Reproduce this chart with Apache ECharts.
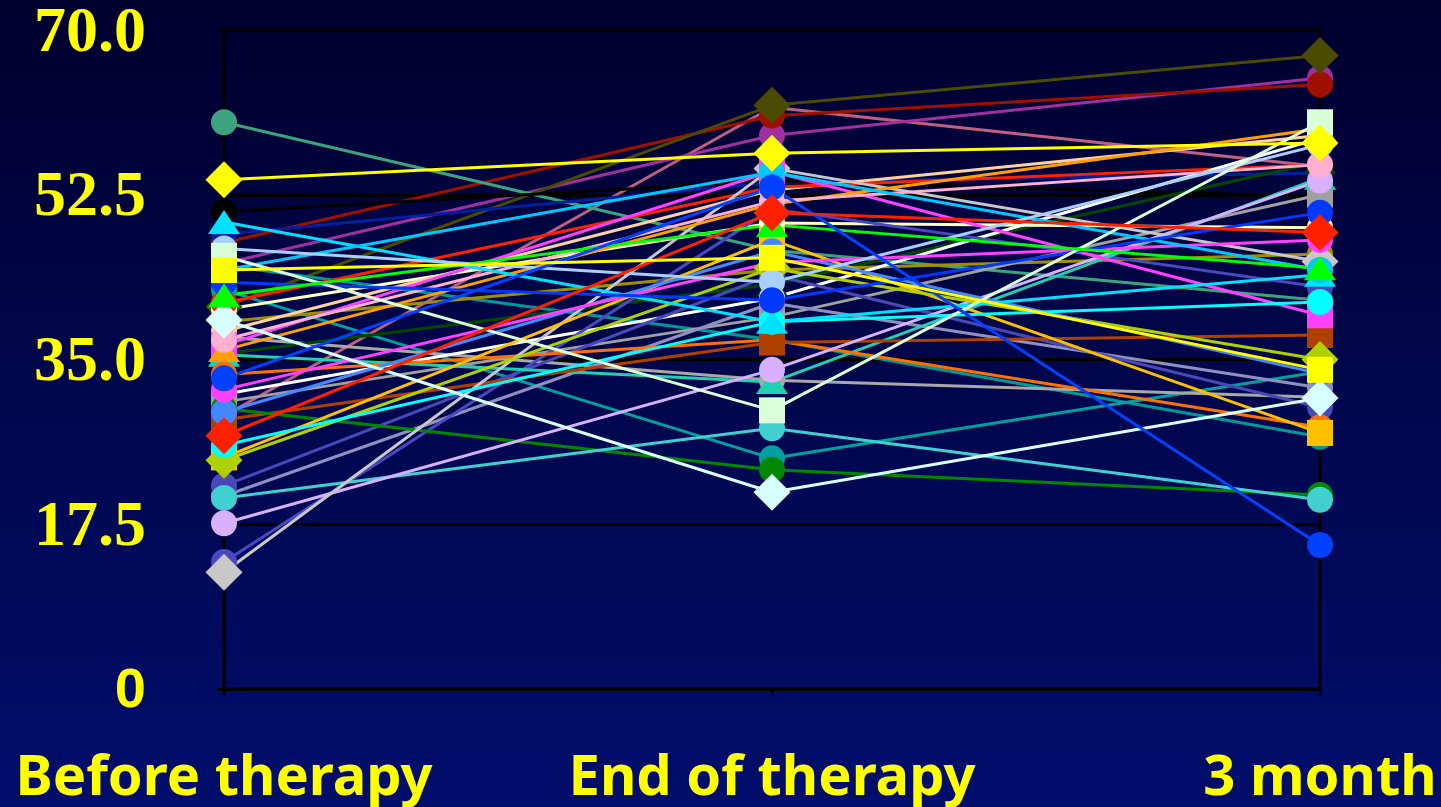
<!DOCTYPE html>
<html>
<head>
<meta charset="utf-8">
<script src="https://cdn.jsdelivr.net/npm/echarts@6/dist/echarts.min.js"></script>
<style>
html,body{margin:0;padding:0;width:1441px;height:807px;overflow:hidden;background:#000033;}
#chart{width:1441px;height:807px;}
</style>
</head>
<body>
<div id="chart"></div>
<script>
// Categories (time points)
const categories = ['Before therapy', 'End of therapy', '3 month'];
// Y-axis tick values
const yTicks = [0, 17.5, 35, 52.5, 70];

// Series values: [Before therapy, End of therapy, 3 month]
const seaGreen      = [60.2, 46.6, 41.3];
const yellowDiamond = [54.1, 56.9, 58.0];
const blackSeries   = [50.7, 54.0, 52.3];
const cyanTriangle  = [49.6, 39.0, 44.0];
const darkRed       = [47.4, 60.9, 64.2];
const navy          = [48.3, 53.8, 54.8];
const lightBlue     = [46.8, 43.2, 57.8];
const lightGreen    = [46.0, 29.6, 60.2];
const purple        = [45.2, 58.8, 64.9];
const yellowSquare  = [44.5, 45.8, 33.9];
const deepSky       = [44.5, 54.9, 44.5];
const tealA         = [45.0, 37.1, 26.8];
const tealB         = [42.4, 24.5, 33.7];
const blueB         = [43.2, 41.3, 50.6];
const green         = [41.8, 49.3, 44.7];
const red2          = [41.0, 53.3, 55.7];
const darkOlive     = [40.6, 62.0, 67.3];
const cream         = [40.3, 49.5, 49.0];
const lightCyan     = [39.2, 20.9, 30.9];
const olive         = [39.0, 44.5, 46.2];
const peach         = [38.0, 53.0, 58.8];
const pink          = [37.1, 51.8, 55.7];
const grayCircle    = [37.4, 32.8, 31.0];
const magentaSquare = [36.5, 55.0, 39.7];
const orangeTri     = [36.0, 51.5, 59.5];
const darkGreen2    = [35.6, 43.0, 56.0];
const turqTriangle  = [35.5, 32.6, 54.3];
const orangeCircle  = [33.4, 37.1, 27.8];
const blue          = [33.0, 53.3, 15.3];
const magentaCircle = [31.8, 45.3, 47.7];
const whiteSeries   = [31.3, 41.5, 58.5];
const graySquare    = [30.5, 39.5, 52.5];
const darkGreen     = [29.8, 23.3, 20.6];
const cornflower    = [29.4, 46.5, 33.5];
const mauve         = [29.0, 61.8, 55.5];
const brown         = [28.6, 36.8, 37.6];
const redDiamond    = [26.9, 50.6, 48.5];
const cyanCircle    = [25.9, 39.0, 41.1];
const gold          = [24.6, 47.7, 27.2];
const yellowGreen   = [24.3, 44.7, 35.0];
const slate2        = [21.6, 44.0, 29.9];
const grayBlue      = [20.5, 41.0, 32.0];
const turquoise     = [20.3, 27.7, 20.1];
const lavender      = [17.6, 33.9, 54.0];
const slate         = [13.5, 51.0, 42.7];
const lightGray     = [12.4, 55.3, 45.4];

// [name, data, color, symbol]
const seriesDefs = [
  ['s5', mauve, '#C06080', 'circle'],
  ['s4', purple, '#A030A0', 'circle'],
  ['s3', darkRed, '#A01000', 'circle'],
  ['s2', darkOlive, '#4A4A00', 'diamond'],
  ['s1', seaGreen, '#3CA47C', 'circle'],
  ['s6', navy, '#0020A0', 'circle'],
  ['s7', blackSeries, '#000000', 'circle'],
  ['s8', tealA, '#009898', 'circle'],
  ['s9', tealB, '#00A0A0', 'circle'],
  ['s10', grayCircle, '#A8A8A8', 'circle'],
  ['s11', darkGreen2, '#004800', 'triangle'],
  ['s12', olive, '#A09000', 'circle'],
  ['s13', cream, '#FFFFC0', 'circle'],
  ['s14', peach, '#FFD0A0', 'circle'],
  ['s15', red2, '#FF2000', 'circle'],
  ['s16', whiteSeries, '#FFFFFF', 'circle'],
  ['s17', graySquare, '#A0A0A0', 'rect'],
  ['s18', grayBlue, '#9090C0', 'circle'],
  ['s19', slate2, '#4848B8', 'circle'],
  ['s20', slate, '#4848C0', 'circle'],
  ['s21', turqTriangle, '#20D0B0', 'triangle'],
  ['s22', orangeCircle, '#FF7000', 'circle'],
  ['s23', brown, '#B04000', 'rect'],
  ['s24', darkGreen, '#008800', 'circle'],
  ['s25', turquoise, '#40D0D0', 'circle'],
  ['s26', lavender, '#D8B0FF', 'circle'],
  ['s27', lightGray, '#C8C8C8', 'diamond'],
  ['s28', gold, '#FFC000', 'rect'],
  ['s29', yellowGreen, '#B0D000', 'diamond'],
  ['s30', cornflower, '#4488FF', 'circle'],
  ['s31', magentaCircle, '#FF40FF', 'circle'],
  ['s32', magentaSquare, '#FF40FF', 'rect'],
  ['s33', orangeTri, '#FFA000', 'triangle'],
  ['s34', pink, '#FFB0D0', 'circle'],
  ['s35', cyanCircle, '#00FFFF', 'circle'],
  ['s36', cyanTriangle, '#00E0FF', 'triangle'],
  ['s37', deepSky, '#00C8FF', 'circle'],
  ['s38', lightBlue, '#A8D0FF', 'circle'],
  ['s46', blueB, '#0038FF', 'circle'],
  ['s39', lightGreen, '#D8FFD8', 'rect'],
  ['s40', lightCyan, '#D8FFFF', 'diamond'],
  ['s41', green, '#00FF00', 'triangle'],
  ['s42', blue, '#0040FF', 'circle'],
  ['s43', redDiamond, '#FF2000', 'diamond'],
  ['s44', yellowSquare, '#FFFF00', 'rect'],
  ['s45', yellowDiamond, '#FFFF00', 'diamond']
];

const sizeFor = {circle: 26, diamond: 37, rect: 26, triangle: [32, 24]};

const series = seriesDefs.map(([name, data, color, symbol]) => ({
  name: name,
  type: 'line',
  data: data,
  symbol: symbol,
  symbolSize: sizeFor[symbol],
  showAllSymbol: true,
  lineStyle: {color: color, width: 3},
  itemStyle: {color: color, borderWidth: 0},
  emphasis: {disabled: true},
  animation: false
}));

const chart = echarts.init(document.getElementById('chart'), null, {renderer: 'canvas'});
chart.setOption({
  animation: false,
  backgroundColor: {
    type: 'linear', x: 0, y: 0, x2: 0, y2: 1,
    colorStops: [{offset: 0, color: '#00002E'}, {offset: 1, color: '#000E6C'}]
  },
  grid: {left: 224, right: 121, top: 30, bottom: 118, show: true, borderColor: '#000000', borderWidth: 3, backgroundColor: 'transparent'},
  xAxis: {
    type: 'category',
    data: categories,
    boundaryGap: false,
    axisLine: {lineStyle: {color: '#000000', width: 3}},
    axisTick: {show: true, length: 7, lineStyle: {color: '#000000', width: 3}, alignWithLabel: true},
    axisLabel: {
      color: '#FFFF00', fontFamily: 'Noto Sans', fontWeight: 'bold', fontSize: 56,
      margin: 62, interval: 0
    },
    splitLine: {show: false}
  },
  yAxis: {
    type: 'value',
    min: 0, max: 70, interval: 17.5,
    axisLine: {show: true, lineStyle: {color: '#000000', width: 3}},
    axisTick: {show: true, length: 6, lineStyle: {color: '#000000', width: 3}},
    splitLine: {show: true, lineStyle: {color: '#000000', width: 3}},
    axisLabel: {
      margin: 78,
      formatter: function (v) {
        if (yTicks.indexOf(v) < 0) return '';
        return v === 0 ? '{s|0}' : '{n|' + v.toFixed(1) + '}';
      },
      rich: {
        n: {color: '#FFFF00', fontFamily: 'Liberation Serif', fontWeight: 'bold', fontSize: 64, padding: [8, 0, 0, 0]},
        s: {color: '#FFFF00', fontFamily: 'Liberation Sans', fontWeight: 'bold', fontSize: 56, padding: [6, 0, 0, 0]}
      }
    }
  },
  series: series
});
</script>
</body>
</html>
